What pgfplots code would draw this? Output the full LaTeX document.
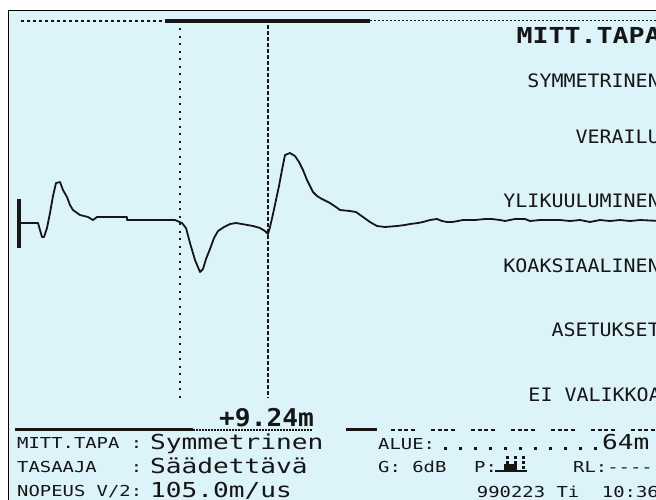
\documentclass[border=0pt]{standalone}
\usepackage{fontspec}
\usepackage{pgfplots}
\pgfplotsset{compat=1.18}
\newfontfamily\lcdS[FakeStretch=1.25]{DejaVu Sans Mono}
\newfontfamily\lcdL[FakeStretch=1.27]{DejaVu Sans Mono}
\newfontfamily\lcdM[FakeStretch=1.08]{DejaVu Sans Mono}
\newfontfamily\lcdT[FakeStretch=1.21]{DejaVu Sans Mono}
\newfontfamily\lcdB[FakeStretch=1.07]{DejaVu Sans Mono}
\newcommand\fS{\lcdS\fontsize{15.1}{16}\selectfont}
\newcommand\fL{\lcdL\fontsize{20.6}{22}\selectfont}
\newcommand\fM{\lcdM\fontsize{18.5}{20}\selectfont}
\newcommand\fT{\lcdT\bfseries\fontsize{22}{24}\selectfont}
\newcommand\fB{\lcdB\bfseries\fontsize{24.5}{26}\selectfont}
\definecolor{lcdbg}{RGB}{221,243,250}
\definecolor{ink}{RGB}{22,22,22}
\begin{document}
\begin{tikzpicture}
\begin{axis}[width=656pt,height=499pt,scale only axis,
  xmin=0,xmax=656,ymin=0,ymax=499,y dir=reverse,hide axis,clip=true]
\fill[white] (axis cs:-5,-5) rectangle (axis cs:670,510);
\fill[lcdbg] (axis cs:8.5,10.5) rectangle (axis cs:670,510);
\draw[black,line width=1.3pt] (axis cs:8.5,510) -- (axis cs:8.5,10.5) -- (axis cs:670,10.5);
% top bar
\draw[ink,line width=2pt,dash pattern=on 3pt off 3pt] (axis cs:21,20.5) -- (axis cs:165,20.5);
\draw[ink,line width=4pt] (axis cs:165,20.5) -- (axis cs:370,20.5);
\draw[ink,line width=1.5pt,dash pattern=on 2pt off 2pt] (axis cs:370,20.5) -- (axis cs:660,20.5);
% cursors
\draw[ink,line width=2pt,dash pattern=on 2pt off 5.5pt] (axis cs:180,28) -- (axis cs:180,398);
\draw[ink,line width=2pt,dash pattern=on 4pt off 2pt] (axis cs:268,25) -- (axis cs:268,398);
% waveform
\addplot[ink,line width=3.5pt] coordinates {(19,199) (19,248)};
\addplot[ink,line width=1.8pt,line join=round] coordinates {
(19,223) (38,223) (40,230) (42,237) (44,237) (47,228) (50,213) (53,196) (56,183) (60,182)
(63,190) (67,197) (70,205) (73,210) (80,215) (88,217) (93,220) (97,217) (127,217) (127,220)
(175,220) (182,223) (186,228) (190,243) (195,260) (200,272) (203,269) (206,259) (210,249)
(214,238) (218,231) (224,227) (230,224) (236,223) (242,224) (253,226) (260,228) (265,231)
(268,234) (270,227) (273,214) (276,200) (279,186) (282,170) (285,155) (290,153) (295,156)
(299,162) (303,170) (307,180) (310,186) (313,192) (317,196) (322,199) (330,203) (336,207)
(340,210) (350,211) (356,212) (363,217) (370,222) (377,226) (385,227) (397,226) (405,225)
(410,224) (418,223) (423,222) (430,220) (437,219) (442,221) (447,222) (452,222) (458,221)
(463,220) (475,220) (485,219) (492,219) (500,220) (505,221) (515,219) (525,219) (530,221)
(540,220) (550,220) (560,220) (570,221) (580,220) (590,222) (600,220) (610,221) (620,220)
(630,221) (640,220) (660,221)};
% menu
\node[ink,anchor=base east,inner sep=0] at (axis cs:661,43) {\fT MITT.TAPA};
\node[ink,anchor=base east,inner sep=0] at (axis cs:660,87) {\fM SYMMETRINEN};
\node[ink,anchor=base east,inner sep=0] at (axis cs:660,143) {\fM VERAILU};
\node[ink,anchor=base east,inner sep=0] at (axis cs:660,207) {\fM YLIKUULUMINEN};
\node[ink,anchor=base east,inner sep=0] at (axis cs:660,272) {\fM KOAKSIAALINEN};
\node[ink,anchor=base east,inner sep=0] at (axis cs:660,336) {\fM ASETUKSET};
\node[ink,anchor=base east,inner sep=0] at (axis cs:661,401) {\fM EI VALIKKOA};
% distance
\node[ink,anchor=base west,inner sep=0] at (axis cs:219,426) {\fB +9.24m};
% bottom lines
\draw[ink,line width=3pt] (axis cs:15,429) -- (axis cs:193,429);
\draw[ink,line width=1.5pt,dash pattern=on 1.5pt off 1.5pt] (axis cs:193,430) -- (axis cs:313,430);
\draw[ink,line width=3pt] (axis cs:346,429) -- (axis cs:377,429);
\draw[ink,line width=1.5pt,dash pattern=on 4pt off 2.5pt on 4pt off 2.5pt on 4pt off 2.5pt on 4pt off 16.5pt] (axis cs:391,430) -- (axis cs:660,430);
% bottom text
\node[ink,anchor=base west,inner sep=0] at (axis cs:17,448) {\fS MITT.TAPA :};
\node[ink,anchor=base west,inner sep=0] at (axis cs:150,449) {\fL Symmetrinen};
\node[ink,anchor=base west,inner sep=0] at (axis cs:17,472) {\fS TASAAJA\ \ \ :};
\node[ink,anchor=base west,inner sep=0] at (axis cs:150,473) {\fL Säädettävä};
\node[ink,anchor=base west,inner sep=0] at (axis cs:17,496) {\fS NOPEUS V/2:};
\node[ink,anchor=base west,inner sep=0] at (axis cs:150,497) {\fL 105.0m/us};
\node[ink,anchor=base west,inner sep=0] at (axis cs:378,449) {\fS ALUE:};
\addplot[ink,only marks,mark=square*,mark size=1.1pt] coordinates {
(445,448) (460,448) (475,448) (490,448) (505,448) (520,448) (535,448) (550,448) (565,448) (580,448) (595,448)};
\node[ink,anchor=base west,inner sep=0] at (axis cs:602,449) {\fL 64m};
\node[ink,anchor=base west,inner sep=0] at (axis cs:378,472) {\fS G: 6dB};
\node[ink,anchor=base west,inner sep=0] at (axis cs:474,472) {\fS P:};
\node[ink,anchor=base west,inner sep=0] at (axis cs:573,472) {\fS RL:----};
\node[ink,anchor=base east,inner sep=0] at (axis cs:659,497) {\fS 990223 Ti\ \ 10:36};
% P icon
\draw[ink,line width=1.5pt] (axis cs:495,471) -- (axis cs:527,471);
\fill[ink] (axis cs:504,464) rectangle (axis cs:517,470);
\addplot[ink,only marks,mark=square*,mark size=0.8pt] coordinates {
(507,457) (515,457) (523,457) (507,462) (515,462) (523,462) (523,467)};
\coordinate (SW) at (axis cs:0,499);
\coordinate (NE) at (axis cs:656,0);
\end{axis}
\pgfresetboundingbox
\path[use as bounding box] (SW) rectangle (NE);
\end{tikzpicture}
\end{document}
